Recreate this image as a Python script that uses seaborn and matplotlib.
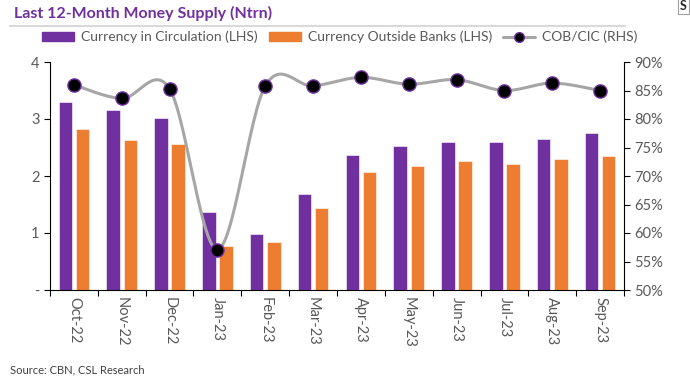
import numpy as np
import pandas as pd
import seaborn as sns
from matplotlib import pyplot as plt
from matplotlib.patches import Patch
from matplotlib.lines import Line2D
from matplotlib.ticker import FuncFormatter, FixedLocator

months = ['Oct-22', 'Nov-22', 'Dec-22', 'Jan-23', 'Feb-23', 'Mar-23',
          'Apr-23', 'May-23', 'Jun-23', 'Jul-23', 'Aug-23', 'Sep-23']
cic = [3.29, 3.16, 3.01, 1.37, 0.98, 1.68, 2.37, 2.52, 2.60, 2.59, 2.65, 2.75]
cob = [2.83, 2.64, 2.56, 0.78, 0.84, 1.43, 2.07, 2.17, 2.26, 2.21, 2.29, 2.35]
ratio = [86.0, 83.6, 85.3, 57.1, 85.8, 85.8, 87.3, 86.1, 86.9, 85.0, 86.3, 85.0]

purple = '#7030A0'
orange = '#ED7D31'
grey_line = '#A6A6A6'
txt = '#595959'

sns.set_style('white')
plt.rcParams['font.family'] = ['Lato', 'DejaVu Sans']

df = pd.DataFrame({
    'month': months * 2,
    'value': cic + cob,
    'series': ['Currency in Circulation (LHS)'] * 12 + ['Currency Outside Banks (LHS)'] * 12,
})

fig = plt.figure(figsize=(6.9, 3.85), dpi=100)
ax = fig.add_axes([50 / 690, 1 - 290 / 385, (624 - 50) / 690, (290 - 62) / 385])

sns.barplot(data=df, x='month', y='value', hue='series', order=months,
            palette=[purple, orange], saturation=1, width=0.72, gap=0.22, ax=ax,
            edgecolor='white', linewidth=0.4, legend=False)
ax.set_xlim(-0.5, 11.5)
ax.set_ylim(0, 4)
ax.set_yticks([0, 1, 2, 3, 4])
ax.set_yticklabels(['-', '1', '2', '3', '4'])
ax.set_xlabel('')
ax.set_ylabel('')
ax.tick_params(axis='y', colors=txt, labelsize=10.5, length=4, width=0.8, direction='out', left=True, color='black')
ax.set_xticks(range(12))
ax.set_xticklabels(months, rotation=270, color=txt, fontsize=10.5)
ax.tick_params(axis='x', length=0, pad=5)
ax.xaxis.set_minor_locator(FixedLocator(np.arange(-0.5, 12, 1)))
ax.tick_params(axis='x', which='minor', length=4, width=0.8, direction='out', bottom=True, color='black')
for s in ['left', 'bottom']:
    ax.spines[s].set_color('black')
    ax.spines[s].set_linewidth(0.8)
ax.spines['top'].set_visible(False)
ax.spines['right'].set_visible(False)

# smoothed ratio line (Catmull-Rom, like Excel smoothing)
ax2 = ax.twinx()
xs = np.arange(len(ratio), dtype=float)
ys = np.array(ratio)
px = np.concatenate([[xs[0]], xs, [xs[-1]]])
py = np.concatenate([[ys[0]], ys, [ys[-1]]])
cx, cy = [], []
t = np.linspace(0, 1, 30)
for i in range(1, len(px) - 2):
    for arr, out in ((px, cx), (py, cy)):
        p0, p1, p2, p3 = arr[i - 1], arr[i], arr[i + 1], arr[i + 2]
        out.extend(0.5 * (2 * p1 + (-p0 + p2) * t + (2 * p0 - 5 * p1 + 4 * p2 - p3) * t ** 2
                          + (-p0 + 3 * p1 - 3 * p2 + p3) * t ** 3))
ax2.plot(cx, cy, color=grey_line, lw=2.2, zorder=3)
ax2.plot(xs, ys, ls='none', marker='o', ms=9.5, mfc='black', mec=purple, mew=1, zorder=4)
ax2.set_ylim(50, 90)
ax2.set_yticks(range(50, 91, 5))
ax2.yaxis.set_major_formatter(FuncFormatter(lambda v, p: f'{v:.0f}%'))
ax2.tick_params(axis='y', colors=txt, labelsize=10.5, length=4, width=0.8, direction='out', right=True, color='black')
for s in ['top', 'left', 'bottom']:
    ax2.spines[s].set_visible(False)
ax2.spines['right'].set_color('black')
ax2.spines['right'].set_linewidth(0.8)

# title and rule
fig.text(14 / 690, 1 - 13 / 385, 'Last 12-Month Money Supply (Ntrn)', color=purple,
         fontsize=11.5, fontweight='bold', va='center', ha='left')
fig.add_artist(Line2D([10 / 690, 625 / 690], [1 - 26 / 385, 1 - 26 / 385],
                      color='#D9D9D9', lw=1.5, transform=fig.transFigure))
fig.text(680 / 690, 1 - 6 / 385, 'S', fontsize=9, fontweight='bold', va='center', ha='left',
         bbox=dict(boxstyle='square,pad=0.15', fc='white', ec='#A0A0A0', lw=0.8))

handles = [Patch(color=purple, label='Currency in Circulation (LHS)'),
           Patch(color=orange, label='Currency Outside Banks (LHS)'),
           Line2D([], [], color=grey_line, lw=2.2, marker='o', ms=7, mfc='black', mec=purple,
                  label='COB/CIC (RHS)')]
leg = fig.legend(handles=handles, loc='center', bbox_to_anchor=(340 / 690, 1 - 37 / 385), ncol=3,
                 frameon=False, fontsize=10, handlelength=2.3, handleheight=0.65,
                 columnspacing=0.8, handletextpad=0.5, borderpad=0)
for tx in leg.get_texts():
    tx.set_color(txt)

fig.text(10 / 690, 1 - 370 / 385, 'Source: CBN, CSL Research', fontsize=8, color='#404040',
         va='center', ha='left')

fig.savefig('out.png', dpi=100)
